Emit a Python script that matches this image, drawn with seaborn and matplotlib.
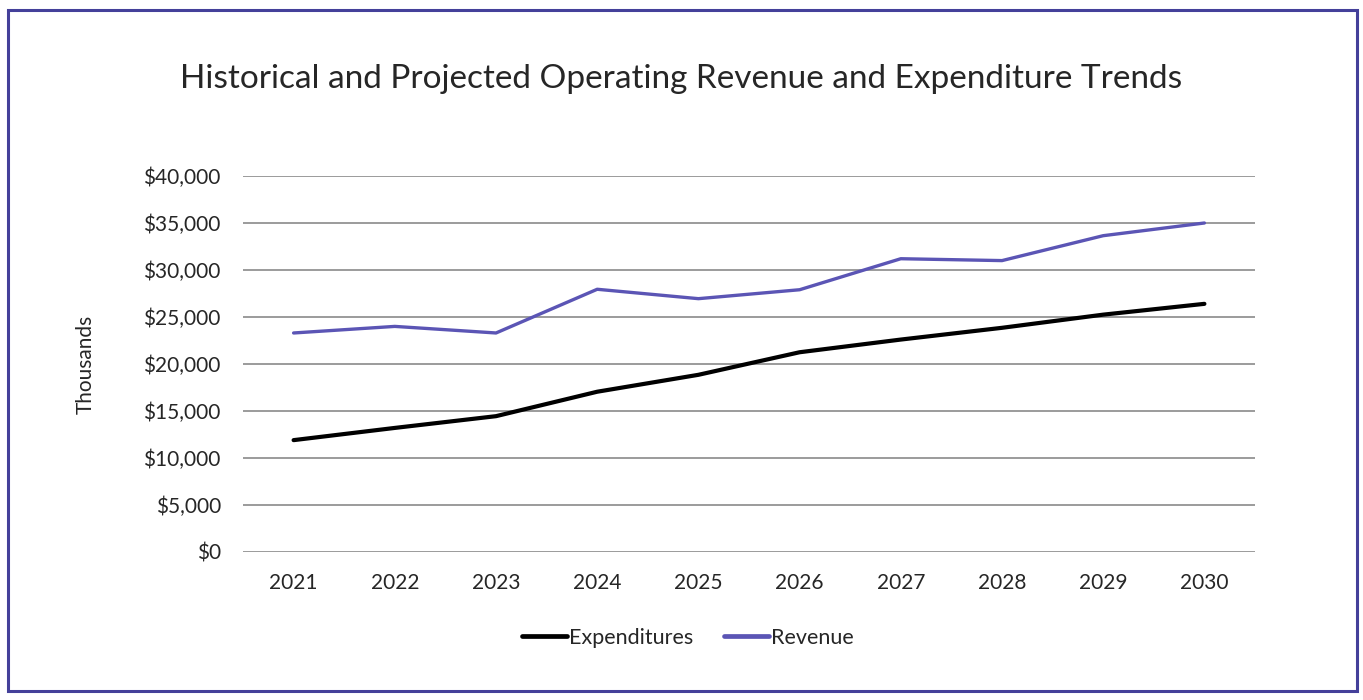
import matplotlib
matplotlib.use("Agg")
import matplotlib.pyplot as plt
import seaborn as sns
import pandas as pd
from matplotlib.patches import Rectangle
from matplotlib.ticker import FuncFormatter, MultipleLocator

years = ["2021", "2022", "2023", "2024", "2025", "2026", "2027", "2028", "2029", "2030"]
expenditures = [11900, 13200, 14450, 17050, 18850, 21250, 22600, 23850, 25250, 26400]
revenue = [23300, 24000, 23300, 27950, 26950, 27900, 31200, 31000, 33650, 35000]

series_names = ["Expenditures", "Revenue"]
series_colors = {"Expenditures": "#000000", "Revenue": "#5b55b5"}
series_widths = {"Expenditures": 3.0, "Revenue": 2.4}

df = pd.DataFrame({
    "Year": years * 2,
    "Value": expenditures + revenue,
    "Series": [series_names[0]] * len(years) + [series_names[1]] * len(years),
})

sns.set_theme(style="white")
plt.rcParams["font.family"] = ["Lato", "DejaVu Sans"]

fig = plt.figure(figsize=(13.63, 7.0), dpi=100)
fig.patch.set_facecolor("white")
ax = fig.add_axes([243 / 1363, 1 - 552 / 700, (1255 - 243) / 1363, (552 - 176) / 700])

for name in series_names:
    sns.lineplot(data=df[df["Series"] == name], x="Year", y="Value",
                 color=series_colors[name], linewidth=series_widths[name],
                 ax=ax, sort=False, legend=False)

ax.set_xlim(-0.5, len(years) - 0.5)
ax.set_ylim(0, 40000)
ax.yaxis.set_major_locator(MultipleLocator(5000))
ax.yaxis.set_major_formatter(FuncFormatter(lambda v, p: f"${v:,.0f}"))
ax.grid(axis="y", color="#8a8a8a", linewidth=1.2)
ax.grid(axis="x", visible=False)
ax.set_axisbelow(True)
for s in ax.spines.values():
    s.set_visible(False)
ax.tick_params(axis="both", length=0, labelsize=15, colors="#262626")
ax.tick_params(axis="x", pad=15)
ax.tick_params(axis="y", pad=16)
ax.set_xlabel("")
ax.set_ylabel("Thousands", fontsize=15, color="#262626", labelpad=34)

fig.text(0.5, 1 - 79 / 700, "Historical and Projected Operating Revenue and Expenditure Trends",
         ha="center", va="center", fontsize=24, color="#262626")

handles = [plt.Line2D([], [], color=series_colors[n], linewidth=3.4) for n in series_names]
fig.legend(handles, series_names, loc="center", bbox_to_anchor=(688 / 1363, 1 - 638 / 700),
           ncol=2, frameon=False, fontsize=15.5, handlelength=2.1, handletextpad=0.1,
           columnspacing=1.4)

fig.add_artist(Rectangle((8 / 1363, 1 - 691 / 700), (1357 - 8) / 1363, (691 - 10) / 700,
                         transform=fig.transFigure, fill=False, edgecolor="#44409a",
                         linewidth=2.2))

fig.savefig("out.png", dpi=100, facecolor="white")
